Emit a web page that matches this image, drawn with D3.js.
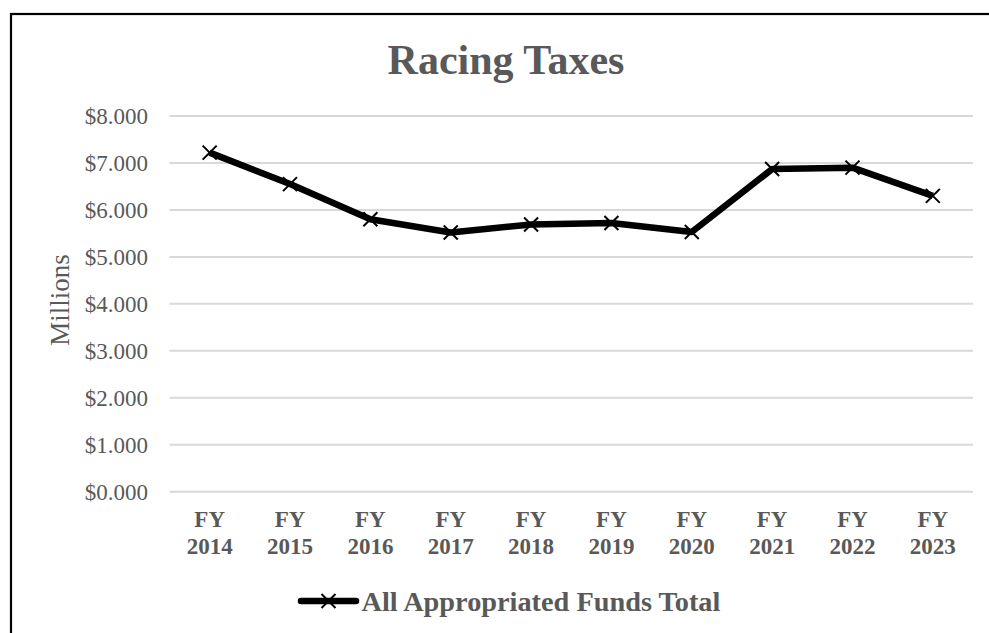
<!DOCTYPE html>
<html>
<head>
<meta charset="utf-8">
<script src="https://cdn.jsdelivr.net/npm/d3@7"></script>
<style>
  html, body { margin: 0; padding: 0; background: #fff; }
  svg { display: block; font-family: "Liberation Serif", "Times New Roman", serif; }
</style>
</head>
<body>
<svg id="chart" width="989" height="633"></svg>
<script>
const title = "Racing Taxes";
const yAxisTitle = "Millions";
const seriesName = "All Appropriated Funds Total";
const categories = ["FY 2014", "FY 2015", "FY 2016", "FY 2017", "FY 2018", "FY 2019", "FY 2020", "FY 2021", "FY 2022", "FY 2023"];
const values = [7.22, 6.55, 5.80, 5.52, 5.69, 5.72, 5.53, 6.87, 6.90, 6.30];
const yTicks = [0, 1, 2, 3, 4, 5, 6, 7, 8];

const svg = d3.select("#chart");
const W = 989, H = 633;
const textGray = "#595959";

// outer border
svg.append("rect")
  .attr("x", 11).attr("y", 14)
  .attr("width", W + 10).attr("height", H + 10)
  .attr("fill", "none").attr("stroke", "#000").attr("stroke-width", 2.2);

const plot = { left: 169.5, right: 973, top: 116, bottom: 491.7 };

const x = d3.scaleBand().domain(categories).range([plot.left, plot.right]);
const y = d3.scaleLinear().domain([0, 8]).range([plot.bottom, plot.top]);

// title
svg.append("text")
  .attr("x", 506).attr("y", 73.5)
  .attr("text-anchor", "middle")
  .attr("font-size", 42).attr("font-weight", "bold")
  .attr("fill", textGray)
  .text(title);

// gridlines
svg.append("g").selectAll("line").data(yTicks).join("line")
  .attr("x1", plot.left).attr("x2", plot.right)
  .attr("y1", d => y(d)).attr("y2", d => y(d))
  .attr("stroke", "#d9d9d9").attr("stroke-width", 2);

// y axis labels
const yAxis = d3.axisLeft(y).tickValues(yTicks).tickSize(0).tickPadding(0)
  .tickFormat(d => "$" + d3.format(".3f")(d));
const gy = svg.append("g").attr("transform", `translate(148,0)`).call(yAxis);
gy.select(".domain").remove();
gy.selectAll("text")
  .attr("font-family", "'Liberation Serif', 'Times New Roman', serif")
  .attr("font-size", 23).attr("fill", textGray).attr("dy", "0.34em");

// y axis title
svg.append("text")
  .attr("transform", "translate(69,300) rotate(-90)")
  .attr("text-anchor", "middle")
  .attr("font-size", 27).attr("fill", textGray)
  .text(yAxisTitle);

// x axis labels (two lines)
const xl = svg.append("g").selectAll("text").data(categories).join("text")
  .attr("x", d => x(d) + x.bandwidth() / 2)
  .attr("y", 527.3)
  .attr("text-anchor", "middle")
  .attr("font-size", 23).attr("font-weight", "bold")
  .attr("fill", textGray);
xl.each(function(d) {
  const parts = d.split(" ");
  const t = d3.select(this);
  t.append("tspan").attr("x", x(d) + x.bandwidth() / 2).attr("dy", 0).text(parts[0]);
  t.append("tspan").attr("x", x(d) + x.bandwidth() / 2).attr("dy", 27).text(parts[1]);
});

// line
const cx = d => x(d) + x.bandwidth() / 2;
const line = d3.line().x((d, i) => cx(categories[i])).y(d => y(d));
svg.append("path")
  .datum(values)
  .attr("d", line)
  .attr("fill", "none").attr("stroke", "#000")
  .attr("stroke-width", 6.5).attr("stroke-linejoin", "round");

// markers
const m = 7;
const crossPath = `M${-m},${-m}L${m},${m}M${-m},${m}L${m},${-m}`;
svg.append("g").selectAll("path").data(values).join("path")
  .attr("transform", (d, i) => `translate(${cx(categories[i])},${y(d)})`)
  .attr("d", crossPath)
  .attr("stroke", "#000").attr("stroke-width", 2).attr("fill", "none");

// legend
const lg = svg.append("g");
lg.append("line")
  .attr("x1", 301).attr("x2", 356)
  .attr("y1", 601).attr("y2", 601)
  .attr("stroke", "#000").attr("stroke-width", 6.5).attr("stroke-linecap", "round");
lg.append("path")
  .attr("transform", "translate(328.5,601)")
  .attr("d", crossPath)
  .attr("stroke", "#000").attr("stroke-width", 2).attr("fill", "none");
lg.append("text")
  .attr("x", 361.5).attr("y", 610.7)
  .attr("font-size", 28.3).attr("font-weight", "bold")
  .attr("fill", textGray)
  .text(seriesName);
</script>
</body>
</html>
